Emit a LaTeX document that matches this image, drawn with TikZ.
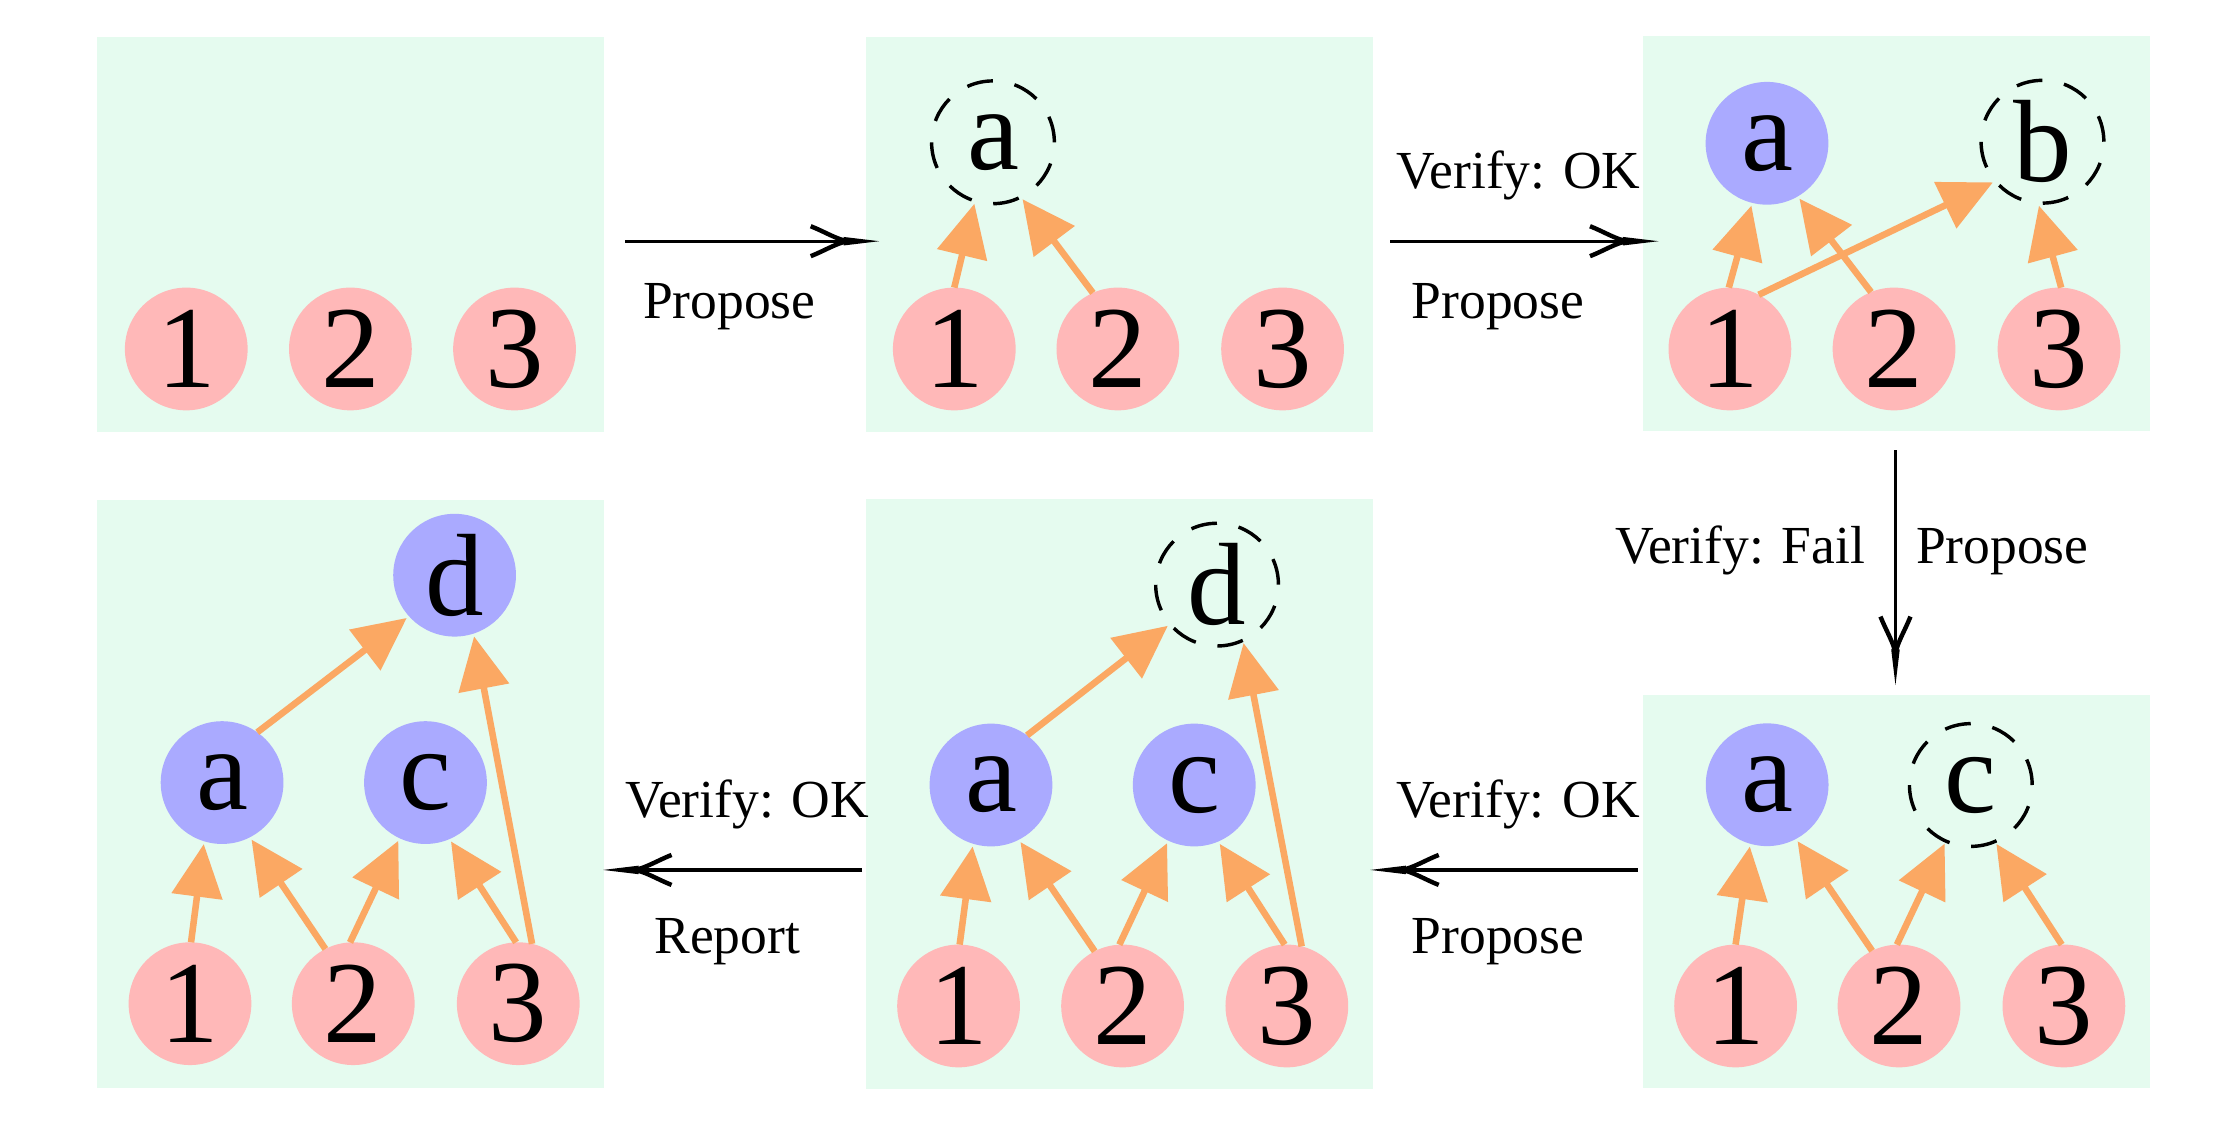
\documentclass[tikz,border=0pt]{standalone}
\usepackage{fontspec}
\setmainfont{Liberation Serif}
\usetikzlibrary{arrows.meta}
\definecolor{panelbg}{RGB}{229,251,239}
\definecolor{leafpink}{RGB}{255,184,184}
\definecolor{hypblue}{RGB}{170,170,255}
\definecolor{edgeorange}{RGB}{251,168,99}

% open "vee" head: two curved barbs running into a sharp spike
\pgfdeclarearrow{
  name=GVee,
  parameters={\the\pgfarrowlength,\the\pgfarrowwidth},
  setup code={
    \pgfarrowssettipend{0pt}
    \pgfarrowssetlineend{-0.45\pgfarrowlength}
    \pgfarrowssetbackend{-\pgfarrowlength}
    \pgfarrowshullpoint{0pt}{0pt}
    \pgfarrowsupperhullpoint{-\pgfarrowlength}{.5\pgfarrowwidth}
    \pgfarrowssavethe\pgfarrowlength
    \pgfarrowssavethe\pgfarrowwidth
  },
  drawing code={
    \pgfpathmoveto{\pgfqpoint{0pt}{0pt}}
    \pgfpathlineto{\pgfqpoint{-.52\pgfarrowlength}{1.3\pgflinewidth}}
    \pgfpathlineto{\pgfqpoint{-.52\pgfarrowlength}{-1.3\pgflinewidth}}
    \pgfpathclose
    \pgfusepathqfill
    \pgfsetlinewidth{1.35\pgflinewidth}
    \pgfsetbuttcap
    \pgfpathmoveto{\pgfqpoint{-\pgfarrowlength}{.5\pgfarrowwidth}}
    \pgfpathcurveto{\pgfqpoint{-.8\pgfarrowlength}{.32\pgfarrowwidth}}%
      {\pgfqpoint{-.62\pgfarrowlength}{.06\pgfarrowwidth}}%
      {\pgfqpoint{-.46\pgfarrowlength}{0pt}}
    \pgfpathmoveto{\pgfqpoint{-\pgfarrowlength}{-.5\pgfarrowwidth}}
    \pgfpathcurveto{\pgfqpoint{-.8\pgfarrowlength}{-.32\pgfarrowwidth}}%
      {\pgfqpoint{-.62\pgfarrowlength}{-.06\pgfarrowwidth}}%
      {\pgfqpoint{-.46\pgfarrowlength}{0pt}}
    \pgfusepathqstroke
  },
  defaults={length=24pt,width=10.5pt}
}

\begin{document}
\begin{tikzpicture}[x=0.5pt,y=-0.5pt,
  panel/.style={fill=panelbg,draw=none},
  leaf/.style={circle,fill=leafpink,minimum size=43pt,inner sep=0pt,outer sep=0pt,
    font=\fontsize{41}{41}\selectfont},
  done/.style={leaf,fill=hypblue},
  cand/.style={circle,draw=black,line width=1.2pt,dash pattern=on 9.2pt off 7.7pt,
    minimum size=43pt,inner sep=0pt,outer sep=0pt,font=\fontsize{41}{41}\selectfont},
  dep/.style={draw=edgeorange,line width=2.3pt,-{Triangle[length=18.5pt,width=17.5pt]},shorten >=1pt},
  flow/.style={draw=black,line width=1.15pt,-{GVee[length=24pt,width=10.5pt]}},
  lbl/.style={font=\fontsize{18.75}{20}\selectfont,inner sep=0pt,anchor=base}
]
\fill[white] (0,0) rectangle (1568,790);

% panels
\fill[panel] (68,26) rectangle (423,303);
\fill[panel] (607,26) rectangle (962,303);
\fill[panel] (1151,25) rectangle (1506,302);
\fill[panel] (1151,486.6) rectangle (1506,762);
\fill[panel] (607,349.5) rectangle (962,763);
\fill[panel] (68,350) rectangle (423,762);

% step 1: inputs only
\node[leaf] (p1n1) at (130.5,244.5) {1};
\node[leaf] (p1n2) at (245.5,244.5) {2};
\node[leaf] (p1n3) at (360.5,244.5) {3};

% step 2: propose a
\node[leaf] (p2n1) at (668.6,244.5) {1};
\node[leaf] (p2n2) at (783.2,244.5) {2};
\node[leaf] (p2n3) at (898.6,244.5) {3};
\node[cand] (p2a) at (695.7,99.7) {a};
\draw[dep] (p2n1.90) -- (p2a.-107);
\draw[dep] (p2n2.114) -- (p2a.-63);

% step 3: a accepted, propose b
\node[leaf] (p3n1) at (1212,244.5) {1};
\node[leaf] (p3n2) at (1327,244.5) {2};
\node[leaf] (p3n3) at (1442.6,244.5) {3};
\node[done] (p3a) at (1238,100.4) {a};
\node[cand] (p3b) at (1431,99.3) {b};
\draw[dep] (p3n1.91) -- (p3a.-104);
\draw[dep] (p3n2.112) -- (p3a.-60);
\draw[dep] (p3n1.62) -- (p3b.-140);
\draw[dep] (p3n3.88) -- (p3b.-94);

% step 4: b rejected, propose c
\node[leaf] (p4n1) at (1216,704.8) {1};
\node[leaf] (p4n2) at (1330.5,704.8) {2};
\node[leaf] (p4n3) at (1446,704.8) {3};
\node[done] (p4a) at (1238.1,549.8) {a};
\node[cand] (p4c) at (1380.8,550) {c};
\draw[dep] (p4n1.90) -- (p4a.-106);
\draw[dep] (p4n2.116) -- (p4a.-62);
\draw[dep] (p4n2.92) -- (p4c.-114);
\draw[dep] (p4n3.92) -- (p4c.-67);

% step 5: c accepted, propose d
\node[leaf] (p5n1) at (671.6,704.8) {1};
\node[leaf] (p5n2) at (786.5,704.8) {2};
\node[leaf] (p5n3) at (901.6,704.8) {3};
\node[done] (p5a) at (694.3,550) {a};
\node[done] (p5c) at (836.7,550) {c};
\node[cand] (p5d) at (852.7,409.6) {d};
\draw[dep] (p5n1.89) -- (p5a.-107);
\draw[dep] (p5n2.117) -- (p5a.-63);
\draw[dep] (p5n2.93) -- (p5c.-115);
\draw[dep] (p5n3.92) -- (p5c.-67);
\draw[dep] (p5n3.76) -- (p5d.-65);
\draw[dep] (p5a.54) -- (p5d.-140);

% step 6: final graph
\node[leaf] (p6n1) at (133.1,703.2) {1};
\node[leaf] (p6n2) at (247.5,703.2) {2};
\node[leaf] (p6n3) at (363.1,703.2) {3};
\node[done] (p6a) at (155.6,548.3) {a};
\node[done] (p6c) at (298.1,548.3) {c};
\node[done] (p6d) at (318.5,403) {d};
\draw[dep] (p6n1.89) -- (p6a.-107);
\draw[dep] (p6n2.117) -- (p6a.-63);
\draw[dep] (p6n2.93) -- (p6c.-115);
\draw[dep] (p6n3.92) -- (p6c.-67);
\draw[dep] (p6n3.77) -- (p6d.-72);
\draw[dep] (p6a.55) -- (p6d.-138);

% transitions between steps
\coordinate (f12s) at (438,169);   \coordinate (f12e) at (616,169);
\coordinate (f23s) at (974,169);   \coordinate (f23e) at (1162,169);
\coordinate (f34s) at (1328,315.6);\coordinate (f34e) at (1328,480);
\coordinate (f45s) at (1147.5,609.5); \coordinate (f45e) at (960,609.5);
\coordinate (f56s) at (604,609.5); \coordinate (f56e) at (422.5,609.5);
\draw[flow] (f12s) -- (f12e);
\draw[flow] (f23s) -- (f23e);
\draw[flow] (f34s) -- (f34e);
\draw[flow] (f45s) -- (f45e);
\draw[flow] (f56s) -- (f56e);

% transition labels
\node[lbl] (l12p) at (511,223) {Propose};
\node[lbl] (l23v) at (1064,132) {Verify:\hspace{0.33em}OK};
\node[lbl] (l23p) at (1049.5,223) {Propose};
\node[lbl,anchor=base east] (l34v) at (1307,395) {Verify:\hspace{0.33em}Fail};
\node[lbl,anchor=base west] (l34p) at (1342,395) {Propose};
\node[lbl] (l45v) at (1063.5,572.5) {Verify:\hspace{0.33em}OK};
\node[lbl] (l45p) at (1049.5,668) {Propose};
\node[lbl] (l56v) at (523.5,572.5) {Verify:\hspace{0.33em}OK};
\node[lbl] (l56r) at (509.5,668) {Report};
\end{tikzpicture}
\end{document}
